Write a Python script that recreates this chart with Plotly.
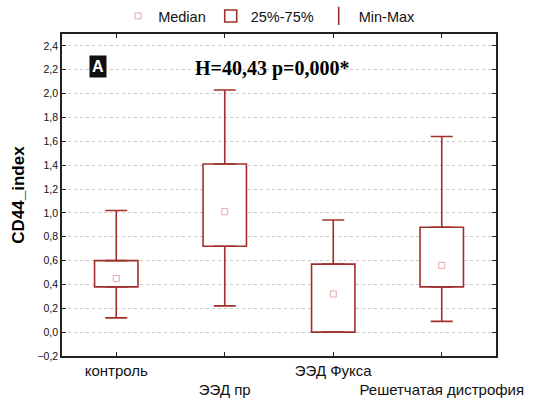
import plotly.graph_objects as go

categories = ["контроль", "ЭЭД пр", "ЭЭД Фукса", "Решетчатая дистрофия"]
mins = [0.12, 0.22, 0.00, 0.09]
q1s = [0.38, 0.72, 0.00, 0.38]
medians = [0.45, 1.01, 0.32, 0.56]
q3s = [0.60, 1.41, 0.57, 0.88]
maxs = [1.02, 2.03, 0.94, 1.64]
y_ticks = [-0.2, 0.0, 0.2, 0.4, 0.6, 0.8, 1.0, 1.2, 1.4, 1.6, 1.8, 2.0, 2.2, 2.4]

RED = "#a0302c"
MED = "#e2aaa2"
FONT = "Liberation Sans, Arial, sans-serif"

xs = list(range(len(categories)))
ticktext = [c if i % 2 == 0 else "<br>" + c for i, c in enumerate(categories)]

fig = go.Figure()

fig.add_trace(go.Scatter(
    x=xs, y=medians, mode="markers", name="Median",
    marker=dict(symbol="square-open", size=6, color=MED, line=dict(width=1, color=MED)),
))

fig.add_trace(go.Bar(
    x=xs, base=q1s, y=[b - a for a, b in zip(q1s, q3s)], width=0.4,
    name="25%-75%",
    marker=dict(color="white", line=dict(color=RED, width=1.6)),
))

fig.add_trace(go.Scatter(
    x=xs, y=q3s, mode="markers", showlegend=False, hoverinfo="skip",
    marker=dict(size=1, color="rgba(0,0,0,0)"),
    error_y=dict(type="data", symmetric=False,
                 array=[m - q for m, q in zip(maxs, q3s)],
                 arrayminus=[0] * len(q3s),
                 color=RED, thickness=1.6, width=11),
))
fig.add_trace(go.Scatter(
    x=xs, y=q1s, mode="markers", showlegend=False, hoverinfo="skip",
    marker=dict(size=1, color="rgba(0,0,0,0)"),
    error_y=dict(type="data", symmetric=False,
                 array=[0] * len(q1s),
                 arrayminus=[q - m for q, m in zip(q1s, mins)],
                 color=RED, thickness=1.6, width=11),
))

fig.add_trace(go.Scatter(
    x=[None], y=[None], mode="markers", name="Min-Max",
    marker=dict(symbol="line-ns-open", size=13, color=RED, line=dict(width=1.6, color=RED)),
))

fig.update_layout(
    width=533, height=401,
    margin=dict(l=62, r=37, t=34, b=45, autoexpand=False),
    paper_bgcolor="white", plot_bgcolor="white",
    separators=",.",
    font=dict(family=FONT, color="#111111"),
    showlegend=True,
    legend=dict(orientation="h", x=0.505, xanchor="center", y=1.0, yanchor="top",
                xref="container", yref="container",
                font=dict(size=14.5, family=FONT), itemwidth=30, traceorder="normal",
                tracegroupgap=0, bgcolor="rgba(0,0,0,0)"),
    barmode="overlay",
)

fig.update_xaxes(
    range=[-0.5, 3.5], tickmode="array", tickvals=xs, ticktext=ticktext,
    tickangle=0, automargin=False,
    showgrid=False, zeroline=False,
    showline=True, linecolor="#222222", linewidth=1.5, mirror="ticks",
    ticks="inside", ticklen=4, tickcolor="#222222",
    tickfont=dict(size=15, family=FONT, color="#111111"),
)
fig.update_yaxes(
    range=[-0.2, 2.5], tickmode="array", tickvals=y_ticks, tickformat=".1f",
    automargin=False,
    showgrid=True, gridcolor="#d0c6c6", griddash="dot", gridwidth=1,
    zeroline=False,
    showline=True, linecolor="#222222", linewidth=1.5, mirror="ticks",
    ticks="inside", ticklen=4, tickcolor="#222222",
    tickfont=dict(size=10.5, family=FONT, color="#111111"),
    title=dict(text="<b>CD44_index</b>", font=dict(size=17, family=FONT, color="#000000"), standoff=8),
)

fig.add_annotation(
    xref="paper", yref="paper", x=0.062, y=0.935, text="<b>A</b>",
    showarrow=False, bgcolor="#111111", borderpad=2,
    font=dict(size=16, family=FONT, color="white"),
)
fig.add_annotation(
    xref="paper", yref="paper", x=0.4845, y=0.935, text="<b>H=40,43 p=0,000*</b>",
    showarrow=False, font=dict(size=20, family="Liberation Serif, Times New Roman, serif", color="#000000"),
)

fig.write_html("out.html", config={"displayModeBar": False},
               post_script="document.body.style.margin='0';")
